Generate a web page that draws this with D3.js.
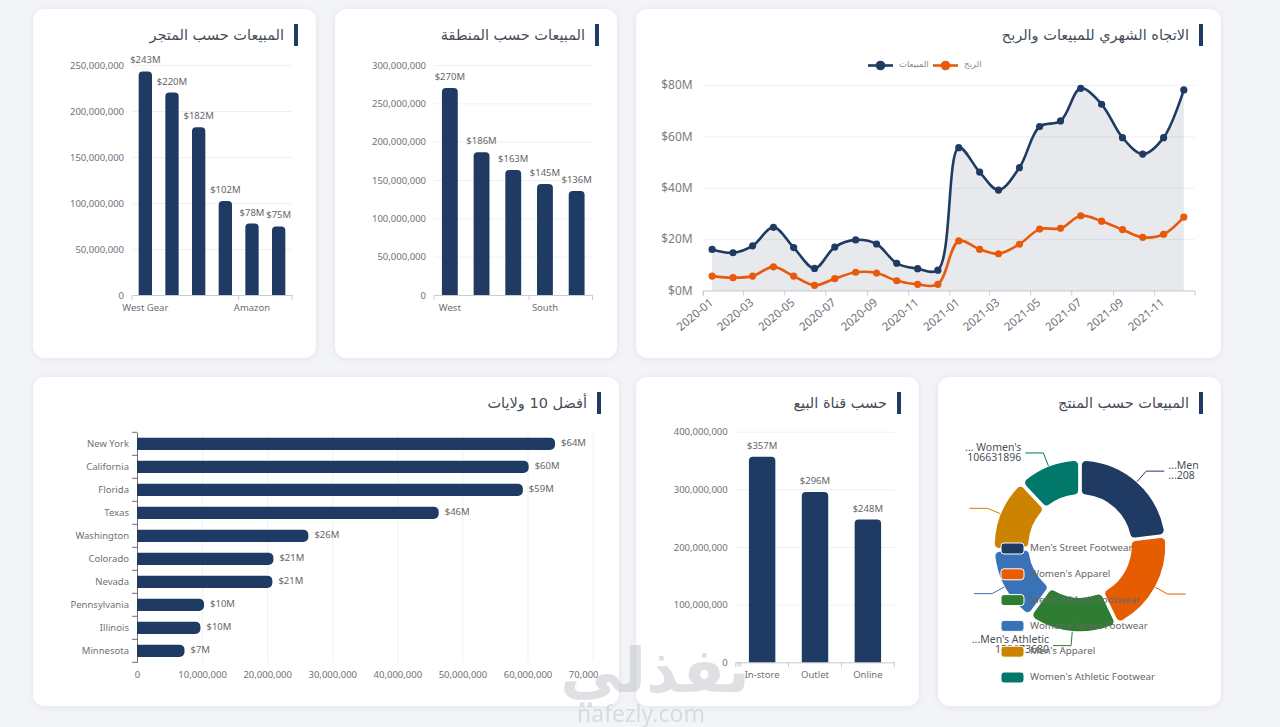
<!DOCTYPE html>
<html>
<head>
<meta charset="utf-8">
<script src="https://d3js.org/d3.v7.min.js"></script>
<style>
 body { margin:0; background:#f3f4f8; }
 svg { display:block; }
</style>
</head>
<body>
<svg id="dash" width="1280" height="727"></svg>
<script>
// ---- data ----
const storeNames = ["West Gear", "Foot Locker", "Sports Direct", "Kohl's", "Amazon", "Walmart"];
const storeSales = [242964333, 220094720, 182470997, 102114753, 77698912, 74558410];
const storeShown = [0, 4];

const regionNames = ["West", "Northeast", "Southeast", "South", "Midwest"];
const regionSales = [269943182, 186324067, 163171236, 144663181, 135800459];
const regionShown = [0, 3];

const months = ["2020-01","2020-02","2020-03","2020-04","2020-05","2020-06","2020-07","2020-08","2020-09","2020-10","2020-11","2020-12",
                "2021-01","2021-02","2021-03","2021-04","2021-05","2021-06","2021-07","2021-08","2021-09","2021-10","2021-11","2021-12"];
// in $M
const monthSales  = [16.0,14.7,17.4,24.6,16.7,8.6,16.9,19.7,18.1,10.6,8.5,7.9,55.6,46.1,39.1,47.8,63.8,66.0,78.7,72.5,59.5,53.1,59.5,78.1];
const monthProfit = [5.6,5.0,5.6,9.2,5.6,2.0,4.6,7.1,6.8,3.8,2.4,2.4,19.3,16.0,14.3,18.0,23.9,24.2,29.1,27.0,23.7,20.7,21.9,28.6];
const lineTicks = [0, 20, 40, 60, 80];

const stateNames = ["New York","California","Florida","Texas","Washington","Colorado","Nevada","Pennsylvania","Illinois","Minnesota"];
const stateSales = [64229039, 60174133, 59283714, 46359746, 26330718, 20960000, 20800000, 10300000, 9750000, 7300000];

const channelNames = ["In-store", "Outlet", "Online"];
const channelSales = [356643750, 295585493, 247672882];

const productNames = ["Men's Street Footwear","Women's Apparel","Men's Athletic Footwear","Women's Street Footwear","Men's Apparel","Women's Athletic Footwear"];
const productSales = [208826244, 179038860, 153673680, 128002813, 123728632, 106631896];
const productColors = ["#1f3b63", "#e65c00", "#2e7d32", "#3a72b8", "#cc8400", "#00796b"];
// visible (truncated) slice labels
const productLabels = [["...Men", "...208"], null, ["...Men's Athletic", "153673680"], null, null, ["... Women's", "106631896"]];

// ---- look ----
const NAVY = "#1f3b63", ORANGE = "#e8590c", AX = "#6e7079", GRID = "#eef0f3", VAL = "#666";
const FONT = "'Noto Sans', 'DejaVu Sans', sans-serif";
const AR = "'DejaVu Sans', sans-serif";

const svg = d3.select("#dash");
const defs = svg.append("defs");
defs.append("filter").attr("id", "sh").attr("x", "-10%").attr("y", "-10%").attr("width", "120%").attr("height", "130%")
  .append("feDropShadow").attr("dx", 0).attr("dy", 1).attr("stdDeviation", 3)
  .attr("flood-color", "#1f3b63").attr("flood-opacity", 0.07);

const panels = [
  {x: 33,  y: 9,   w: 283, h: 349, title: "المبيعات حسب المتجر"},
  {x: 335, y: 9,   w: 282, h: 349, title: "المبيعات حسب المنطقة"},
  {x: 636, y: 9,   w: 585, h: 349, title: "الاتجاه الشهري للمبيعات والربح"},
  {x: 33,  y: 377, w: 586, h: 329, title: "أفضل 10 ولايات"},
  {x: 636, y: 377, w: 283, h: 329, title: "حسب قناة البيع"},
  {x: 938, y: 377, w: 283, h: 329, title: "المبيعات حسب المنتج"}
];
panels.forEach(p => {
  svg.append("rect").attr("x", p.x).attr("y", p.y).attr("width", p.w).attr("height", p.h)
    .attr("rx", 12).attr("fill", "#fff").attr("filter", "url(#sh)");
  svg.append("rect").attr("x", p.x + p.w - 22).attr("y", p.y + 15).attr("width", 4).attr("height", 22).attr("fill", NAVY);
  svg.append("text").attr("x", p.x + p.w - 32).attr("y", p.y + 27).attr("text-anchor", "end")
    .attr("dominant-baseline", "middle").attr("font-family", AR).attr("font-size", 14.5)
    .attr("fill", "#454c58").text(p.title);
});

function styleText(g, size) {
  g.attr("font-family", FONT).attr("font-size", size);
  g.selectAll("text").attr("fill", AX);
}
function topRounded(x, y, w, h, r) {
  r = Math.min(r, w / 2, h);
  return `M${x},${y + h}V${y + r}A${r},${r} 0 0 1 ${x + r},${y}H${x + w - r}A${r},${r} 0 0 1 ${x + w},${y + r}V${y + h}Z`;
}
function rightRounded(x, y, w, h, r) {
  r = Math.min(r, h / 2, w);
  return `M${x},${y}H${x + w - r}A${r},${r} 0 0 1 ${x + w},${y + r}V${y + h - r}A${r},${r} 0 0 1 ${x + w - r},${y + h}H${x}Z`;
}
const fmtM = v => "$" + Math.round(v / 1e6) + "M";

// ---- vertical bar charts ----
function vBar(c) {
  const x = d3.scaleBand().domain(c.cats).range([c.x0, c.x1]).paddingInner(0.5).paddingOuter(0.25);
  const y = d3.scaleLinear().domain([0, c.max]).range([c.yb, c.yt]);
  const g = svg.append("g");
  const ga = g.append("g").attr("transform", `translate(${c.x0},0)`)
    .call(d3.axisLeft(y).tickValues(d3.range(0, c.max + 1, c.step)).tickFormat(d3.format(","))
      .tickSize(-(c.x1 - c.x0)).tickPadding(8));
  ga.select(".domain").remove();
  ga.selectAll(".tick line").attr("stroke", GRID);
  styleText(ga, 9.5);

  const gb = g.append("g").attr("transform", `translate(0,${c.yb})`)
    .call(d3.axisBottom(x).tickSize(0).tickPadding(9).tickFormat((d, i) => c.shown.includes(i) ? d : ""));
  gb.select(".domain").attr("stroke", "#c9cdd3");
  styleText(gb, 9.5);
  const tx = c.shown.map(i => x(c.cats[i]) - x.step() * 0.25).concat([c.x1]);
  g.selectAll(null).data(tx).join("line")
    .attr("x1", d => d).attr("x2", d => d).attr("y1", c.yb).attr("y2", c.yb + 5).attr("stroke", "#c9cdd3");

  g.selectAll(null).data(c.vals).join("path")
    .attr("d", (v, i) => topRounded(x(c.cats[i]), y(v), x.bandwidth(), c.yb - y(v), 4))
    .attr("fill", NAVY);
  g.selectAll(null).data(c.vals).join("text")
    .attr("x", (v, i) => x(c.cats[i]) + x.bandwidth() / 2).attr("y", v => y(v) - 8)
    .attr("text-anchor", "middle").attr("font-family", FONT).attr("font-size", 9.5).attr("fill", VAL)
    .text(fmtM);
}
vBar({cats: storeNames, vals: storeSales, shown: storeShown, x0: 132, x1: 292, yb: 295, yt: 65, max: 250e6, step: 50e6});
vBar({cats: regionNames, vals: regionSales, shown: regionShown, x0: 434, x1: 592.5, yb: 295, yt: 65, max: 300e6, step: 50e6});
vBar({cats: channelNames, vals: channelSales, shown: [0, 1, 2], x0: 735.7, x1: 894.3, yb: 662.3, yt: 431.7, max: 400e6, step: 100e6});

// ---- monthly trend ----
(function () {
  const parse = d3.timeParse("%Y-%m");
  const dates = months.map(m => d3.timeDay.offset(parse(m), 14));
  const x = d3.scaleTime().domain([new Date(2020, 0, 1), new Date(2021, 11, 31)]).range([702.7, 1194.6]);
  const y = d3.scaleLinear().domain([0, 80]).range([290.5, 85]);
  const g = svg.append("g");

  const ga = g.append("g").attr("transform", "translate(702.7,0)")
    .call(d3.axisLeft(y).tickValues(lineTicks).tickFormat(d => `$${d}M`).tickSize(-(1194.6 - 702.7)).tickPadding(10));
  ga.select(".domain").remove();
  ga.selectAll(".tick line").attr("stroke", GRID);
  styleText(ga, 12);
  ga.selectAll("text").attr("fill", "#7a7d85");

  const gb = g.append("g").attr("transform", "translate(0,290.5)")
    .call(d3.axisBottom(x).ticks(d3.timeMonth.every(2)).tickFormat(d3.timeFormat("%Y-%m")).tickSize(5));
  gb.select(".domain").attr("stroke", "#c9cdd3");
  gb.selectAll(".tick line").attr("stroke", "#c9cdd3");
  styleText(gb, 11.5);
  gb.selectAll(".tick text").attr("text-anchor", "end").attr("dy", "0.35em")
    .attr("transform", "translate(3,4) rotate(-40)");

  const curve = d3.curveCatmullRom.alpha(0.5);
  const sales = dates.map((d, i) => ({d, v: monthSales[i]}));
  const profit = dates.map((d, i) => ({d, v: monthProfit[i]}));

  g.append("path").datum(sales)
    .attr("d", d3.area().x(p => x(p.d)).y0(y(0)).y1(p => y(p.v)).curve(curve))
    .attr("fill", "#6b7787").attr("opacity", 0.16);
  [[sales, NAVY], [profit, ORANGE]].forEach(([data, col]) => {
    g.append("path").datum(data)
      .attr("d", d3.line().x(p => x(p.d)).y(p => y(p.v)).curve(curve))
      .attr("fill", "none").attr("stroke", col).attr("stroke-width", 2.6);
    g.selectAll(null).data(data).join("circle")
      .attr("cx", p => x(p.d)).attr("cy", p => y(p.v)).attr("r", 3.6).attr("fill", col);
  });

  const legend = [{name: "المبيعات", col: NAVY}, {name: "الربح", col: ORANGE}];
  legend.forEach((l, i) => {
    const lx = 868 + i * 65;
    g.append("line").attr("x1", lx).attr("x2", lx + 25).attr("y1", 65.5).attr("y2", 65.5)
      .attr("stroke", l.col).attr("stroke-width", 2.6);
    g.append("circle").attr("cx", lx + 12.5).attr("cy", 65.5).attr("r", 4.8).attr("fill", l.col);
    g.append("text").attr("x", lx + 31).attr("y", 64).attr("dominant-baseline", "middle")
      .attr("font-family", AR).attr("font-size", 8.5).attr("fill", "#888").text(l.name);
  });
})();

// ---- top 10 states ----
(function () {
  defs.append("clipPath").attr("id", "hclip").append("rect").attr("x", 33).attr("y", 377).attr("width", 565).attr("height", 329);
  const y = d3.scaleBand().domain(stateNames).range([432.3, 662.3]).paddingInner(0.465).paddingOuter(0.2325);
  const x = d3.scaleLinear().domain([0, 70e6]).range([137, 592.6]);
  const g = svg.append("g").attr("clip-path", "url(#hclip)");

  const gb = g.append("g").attr("transform", "translate(0,662.3)")
    .call(d3.axisBottom(x).tickValues(d3.range(0, 70e6 + 1, 10e6)).tickFormat(d3.format(","))
      .tickSize(-(662.3 - 432.3)).tickPadding(9));
  gb.select(".domain").remove();
  gb.selectAll(".tick line").attr("stroke", GRID);
  styleText(gb, 9.5);

  const ga = g.append("g").attr("transform", "translate(137,0)")
    .call(d3.axisLeft(y).tickSize(0).tickPadding(8));
  ga.select(".domain").attr("stroke", AX);
  styleText(ga, 9.5);
  g.selectAll(null).data(d3.range(stateNames.length + 1)).join("line")
    .attr("x1", 132).attr("x2", 137)
    .attr("y1", i => 432.3 + i * y.step()).attr("y2", i => 432.3 + i * y.step()).attr("stroke", AX);

  g.selectAll(null).data(stateSales).join("path")
    .attr("d", (v, i) => rightRounded(x(0), y(stateNames[i]), x(v) - x(0), y.bandwidth(), 5))
    .attr("fill", NAVY);
  g.selectAll(null).data(stateSales).join("text")
    .attr("x", v => x(v) + 6).attr("y", (v, i) => y(stateNames[i]) + y.bandwidth() / 2)
    .attr("dominant-baseline", "middle").attr("font-family", FONT).attr("font-size", 9.5).attr("fill", VAL)
    .text(fmtM);
})();

// ---- product donut ----
(function () {
  const cx = 1080, cy = 546, R = 86;
  const pie = d3.pie().sort(null).value(d => d).padAngle(0.022);
  const arc = d3.arc().innerRadius(51).outerRadius(R).cornerRadius(5);
  const arcs = pie(productSales);
  const g = svg.append("g").attr("transform", `translate(${cx},${cy})`);
  g.selectAll(null).data(arcs).join("path")
    .attr("d", arc).attr("fill", (d, i) => productColors[i]).attr("stroke", "#fff").attr("stroke-width", 1.5);

  arcs.forEach((a, i) => {
    const m = (a.startAngle + a.endAngle) / 2;
    const sx = Math.sin(m), sy = -Math.cos(m);
    const p1 = [R * sx, R * sy], p2 = [(R + 14) * sx, (R + 14) * sy];
    const dir = sx >= 0 ? 1 : -1;
    const p3 = [p2[0] + dir * 18, p2[1]];
    g.append("polyline").attr("points", [p1, p2, p3].map(p => p.join(",")).join(" "))
      .attr("fill", "none").attr("stroke", productColors[i]).attr("stroke-width", 1);
    const lab = productLabels[i];
    if (lab) {
      g.selectAll(null).data(lab).join("text")
        .attr("x", p3[0] + dir * 4).attr("y", (t, k) => p3[1] - 5 + k * 10)
        .attr("text-anchor", dir > 0 ? "start" : "end").attr("dominant-baseline", "middle")
        .attr("font-family", FONT).attr("font-size", 10.5).attr("fill", "#4a4f58").text(t => t);
    }
  });

  const lg = svg.append("g");
  productNames.forEach((n, i) => {
    const ly = 548.5 + i * 25.8;
    lg.append("rect").attr("x", 1001).attr("y", ly - 5.5).attr("width", 23).attr("height", 11).attr("rx", 3)
      .attr("fill", productColors[i]).attr("stroke", "#fff").attr("stroke-width", 1);
    lg.append("text").attr("x", 1030).attr("y", ly).attr("dominant-baseline", "middle")
      .attr("font-family", FONT).attr("font-size", 9.8).attr("fill", "#666").text(n);
  });
})();

// ---- watermark ----
svg.append("text").attr("x", 655).attr("y", 692).attr("text-anchor", "middle")
  .attr("font-family", AR).attr("font-weight", "bold").attr("font-size", 62)
  .attr("fill", "#b9bcc2").attr("opacity", 0.45).text("نفذلي");
svg.append("text").attr("x", 641).attr("y", 722).attr("text-anchor", "middle")
  .attr("font-family", FONT).attr("font-size", 23)
  .attr("fill", "#b9bcc2").attr("opacity", 0.45).text("nafezly.com");
</script>
</body>
</html>
